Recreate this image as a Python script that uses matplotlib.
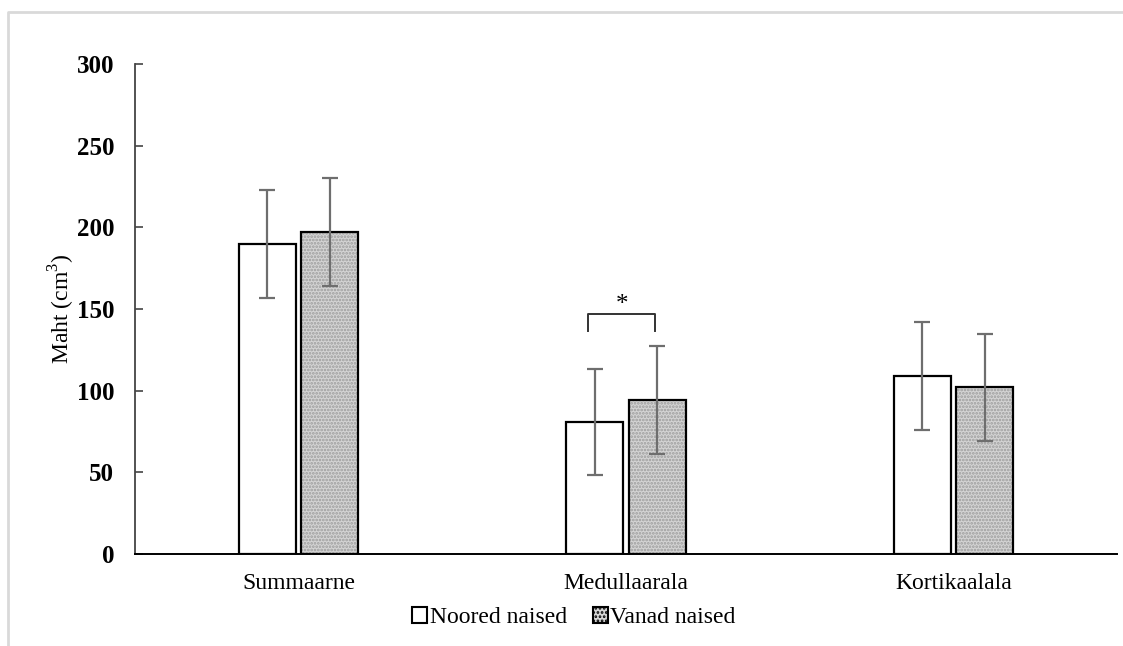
import numpy as np
import matplotlib.pyplot as plt
from matplotlib.lines import Line2D

# --- data ---
categories = ["Summaarne", "Medullaarala", "Kortikaalala"]
noored = [190, 81, 109]
noored_err = [33, 32.5, 33]
vanad = [197, 94.5, 102]
vanad_err = [33, 33, 33]
yticks = [0, 50, 100, 150, 200, 250, 300]

plt.rcParams['font.family'] = ['Liberation Serif', 'DejaVu Serif']
plt.rcParams['mathtext.fontset'] = 'custom'
plt.rcParams['mathtext.rm'] = 'Liberation Serif'
plt.rcParams['hatch.linewidth'] = 1.3

fig = plt.figure(figsize=(11.23, 6.46), dpi=100)
ax = fig.add_axes([0.1202, 0.1424, 0.8745, 0.7585])

x = np.arange(len(categories))
w = 0.174
off = 0.0956

ax.bar(x - off, noored, w, color='white', edgecolor='black', linewidth=1.6,
       label='Noored naised', zorder=2)
# hatched fill, then black outline on top
ax.bar(x + off, vanad, w, color='#d4d4d4', edgecolor='#9c9c9c', hatch='.....',
       linewidth=0, zorder=2)
ax.bar(x + off, vanad, w, fill=False, edgecolor='black', linewidth=1.6, zorder=3)

ax.errorbar(x - off, noored, yerr=noored_err, fmt='none', ecolor='#6e6e6e',
            elinewidth=1.6, capsize=6, capthick=1.6, zorder=4)
ax.errorbar(x + off, vanad, yerr=vanad_err, fmt='none', ecolor='#6e6e6e',
            elinewidth=1.6, capsize=6, capthick=1.6, zorder=4)

# significance bracket over Medullaarala
bx0, bx1 = x[1] - 0.115, x[1] + 0.09
ax.plot([bx0, bx0, bx1, bx1], [136.5, 147, 147, 136.5], color='#333333', lw=1.4)
ax.text((bx0 + bx1) / 2, 146, '*', ha='center', va='bottom', fontsize=18)

ax.set_xlim(-0.5, 2.5)
ax.set_ylim(0, 300)
ax.set_yticks(yticks)
ax.set_yticklabels([str(t) for t in yticks], fontsize=18, fontweight='bold')
ax.set_xticks(x)
ax.set_xticklabels(categories, fontsize=17)
ax.tick_params(axis='y', direction='in', length=6, width=1.2, pad=15, color='#444444')
ax.tick_params(axis='x', length=0, pad=14)
for s in ['top', 'right']:
    ax.spines[s].set_visible(False)
ax.spines['left'].set_color('#444444')
ax.spines['left'].set_linewidth(1.3)
ax.spines['bottom'].set_linewidth(1.4)
ax.set_ylabel('Maht (cm$^3$)', fontsize=17, labelpad=0)

h_old = plt.Rectangle((0, 0), 1, 1, facecolor='white', edgecolor='black', lw=1.5)
h_new = plt.Rectangle((0, 0), 1, 1, facecolor='#d4d4d4', edgecolor='black',
                      hatch='....', lw=1.5)
fig.legend([h_old, h_new], ['Noored naised', 'Vanad naised'], loc='center',
           bbox_to_anchor=(0.511, 0.044), ncol=2, frameon=False, fontsize=17,
           handlelength=0.65, handleheight=0.65, handletextpad=0.1, columnspacing=1.1)

# light gray outer frame
fig.add_artist(Line2D([8 / 1123, 8 / 1123, 1.0], [0.0, 1 - 12 / 646, 1 - 12 / 646],
                      transform=fig.transFigure, color='#d9d9d9', lw=2))

fig.savefig('out.png', dpi=100)
